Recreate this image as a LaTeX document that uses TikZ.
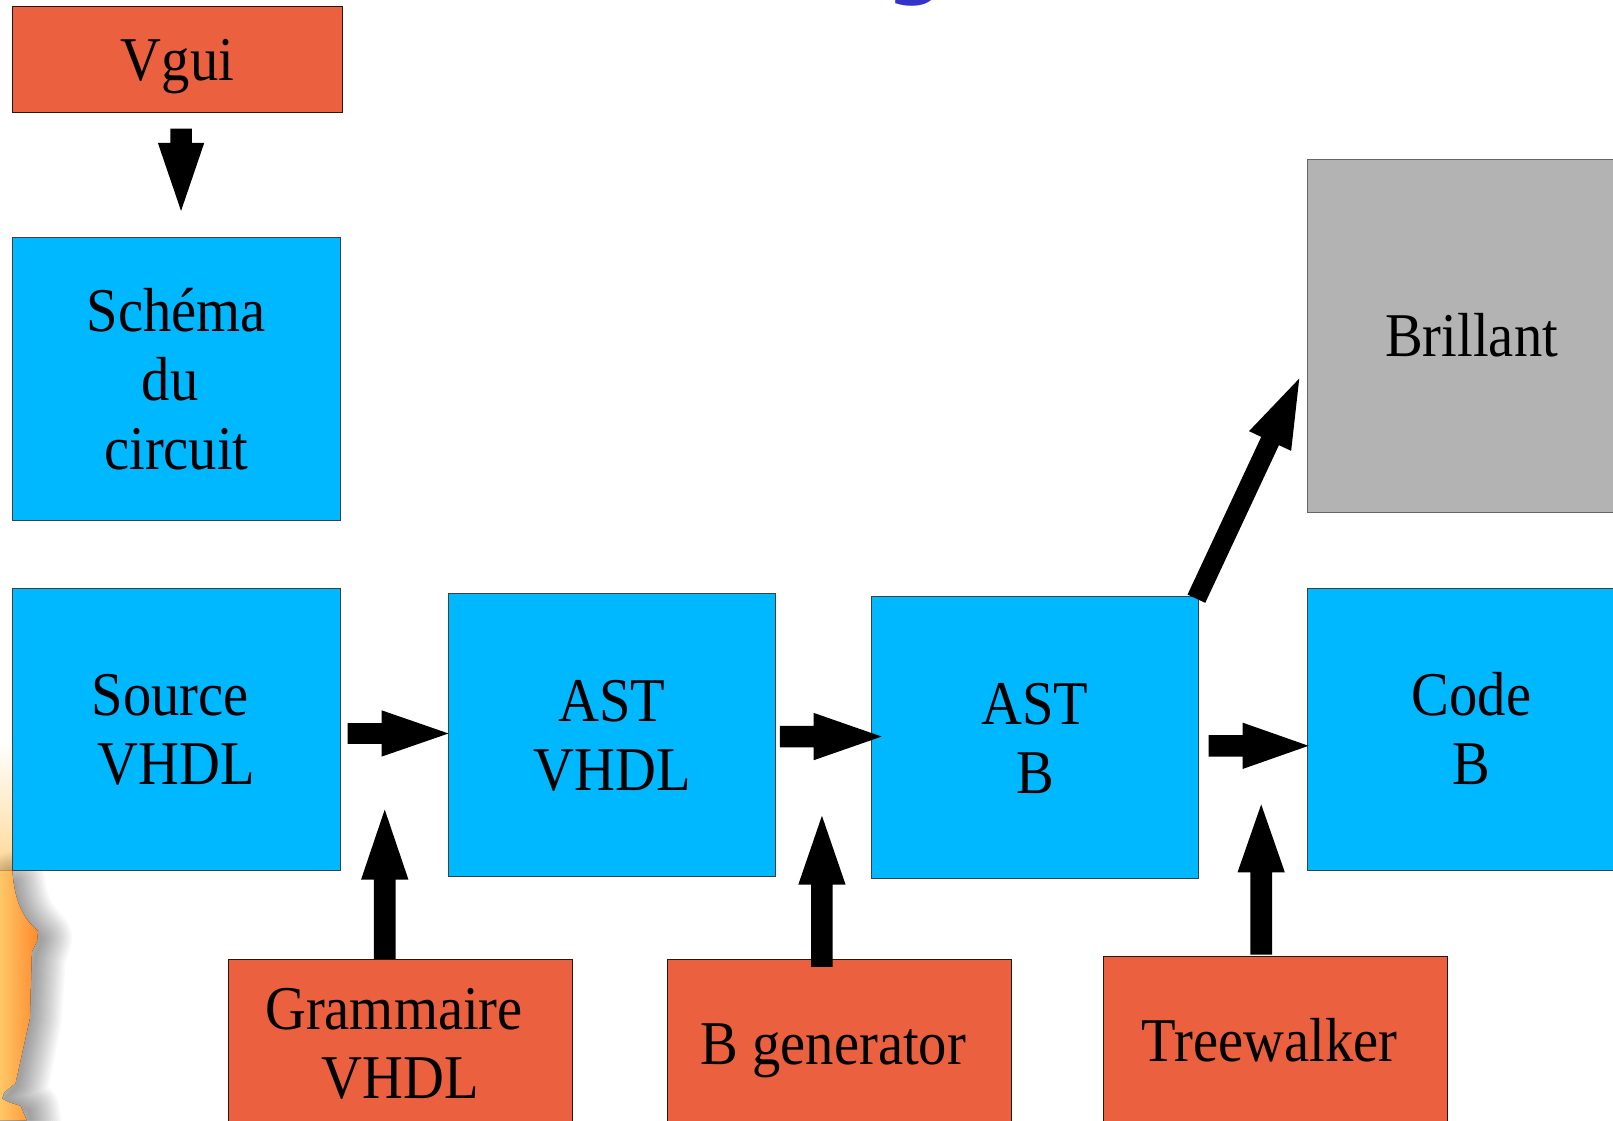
\documentclass[tikz,border=0pt]{standalone}
\usepackage{fontspec}
\setmainfont{Liberation Serif}
\newfontfamily\titlefont{DejaVu Sans}
\usetikzlibrary{calc}
\definecolor{boxblue}{HTML}{00B8FF}
\definecolor{boxorange}{HTML}{EB6140}
\definecolor{boxgray}{HTML}{B3B3B3}
\definecolor{titleblue}{HTML}{3333CC}
\definecolor{decolight}{HTML}{FFC766}
\definecolor{decodark}{HTML}{FF8A2E}
\newcommand{\lbl}[1]{\raisebox{-7pt}[\height][\depth]{\scalebox{1}[1.1]{\begin{tabular}{@{}c@{}}#1\end{tabular}}}}
\newcommand{\tsp}{\hspace*{12pt}}
\newcommand{\blockarrow}[5]{% tail, tip, head length, shaft half width, head half width
  \coordinate (hb-#1) at ($(#2)!#3!(#1)$);
  \fill[black] ($(#1)!#4!90:(#2)$) -- ($(hb-#1)!#4!90:(#2)$) -- ($(hb-#1)!#5!90:(#2)$) -- (#2)
    -- ($(hb-#1)!#5!-90:(#2)$) -- ($(hb-#1)!#4!-90:(#2)$) -- ($(#1)!#4!-90:(#2)$) -- cycle;
}
\tikzset{
  box/.style={draw=black!75, line width=0.8pt, inner sep=0pt, outer sep=0pt, anchor=north west,
    font=\fontsize{55}{61}\selectfont},
  bluebox/.style={box, fill=boxblue},
  orangebox/.style={box, fill=boxorange, draw=black!80!boxorange},
  graybox/.style={box, fill=boxgray, draw=black!60},
}
\begin{document}
\begin{tikzpicture}[x=1pt,y=-1pt]
\clip (0,0) rectangle (1568,1089);
\fill[white] (0,0) rectangle (1568,1089);

% left decoration (slide template)
\fill[top color=white, bottom color=decolight!70] (0,720) rectangle (12,846);
\foreach \w in {4,8,...,60}{
  \draw[black, line width=\w pt, opacity=0.028, line join=round, line cap=round]
    (14,858) .. controls (18,890) and (30,900) .. (40,912) -- (34,930) -- (30,990) -- (17,1055) -- (6,1068) -- (28,1080) -- (30,1095);
}
\fill[left color=decolight, right color=decodark]
  (0,846) -- (12,846) .. controls (14,880) and (25,895) .. (37,905)
  -- (36,915) -- (31,925) -- (29,990) -- (15,1053) -- (4,1062) -- (2,1068) -- (10,1072)
  -- (20,1075) -- (26,1089) -- (0,1089) -- cycle;

% title fragment
\node[font=\titlefont\bfseries\fontsize{80}{90}\selectfont, text=titleblue, anchor=base, inner sep=0pt] (title) at (890,-11) {g};

% boxes
\node[orangebox, minimum width=321pt, minimum height=103pt] (vgui) at (12,6) {\lbl{Vgui}};
\node[bluebox, minimum width=319pt, minimum height=275pt] (schema) at (12,231) {\lbl{Schéma\\du\tsp\\circuit}};
\node[bluebox, minimum width=319pt, minimum height=274pt] (src) at (12,572) {\lbl{Source\tsp\\VHDL}};
\node[bluebox, minimum width=318pt, minimum height=275pt] (astv) at (436,577) {\lbl{AST\\VHDL}};
\node[bluebox, minimum width=318pt, minimum height=274pt] (astb) at (847,580) {\lbl{AST\\B}};
\node[bluebox, minimum width=319pt, minimum height=274pt] (code) at (1271,572) {\lbl{Code\\B}};
\node[graybox, minimum width=319pt, minimum height=343pt] (brill) at (1271,155) {\lbl{Brillant}};
\node[orangebox, minimum width=334pt, minimum height=162pt] (gram) at (222,933) {\lbl{Grammaire\tsp\\VHDL}};
\node[orangebox, minimum width=334pt, minimum height=162pt] (bgen) at (649,933) {\lbl{B generator\tsp}};
\node[orangebox, minimum width=334pt, minimum height=162pt] (tree) at (1073,930) {\lbl{Treewalker\tsp}};

% arrow end points
\coordinate (a1t) at (176,125);  \coordinate (a1h) at (176,205);
\coordinate (a2t) at (338,713);  \coordinate (a2h) at (436,713);
\coordinate (a3t) at (758,716);  \coordinate (a3h) at (857,716);
\coordinate (a4t) at (1175,725); \coordinate (a4h) at (1272,725);
\coordinate (a5t) at (374,932);  \coordinate (a5h) at (374,787);
\coordinate (a6t) at (799,940);  \coordinate (a6h) at (799,793);
\coordinate (a7t) at (1226,928); \coordinate (a7h) at (1226,782);
\coordinate (a8t) at (1163,582); \coordinate (a8h) at (1263,368);

% block arrows
\blockarrow{a1t}{a1h}{66pt}{10.5pt}{22.5pt}
\blockarrow{a2t}{a2h}{65pt}{10pt}{22.5pt}
\blockarrow{a3t}{a3h}{66pt}{10.5pt}{23pt}
\blockarrow{a4t}{a4h}{64pt}{10.5pt}{22.5pt}
\blockarrow{a5t}{a5h}{68pt}{10.5pt}{23pt}
\blockarrow{a6t}{a6h}{67pt}{10.5pt}{23pt}
\blockarrow{a7t}{a7h}{66pt}{10.5pt}{23pt}
\blockarrow{a8t}{a8h}{67pt}{9.5pt}{22.6pt}
\end{tikzpicture}
\end{document}
